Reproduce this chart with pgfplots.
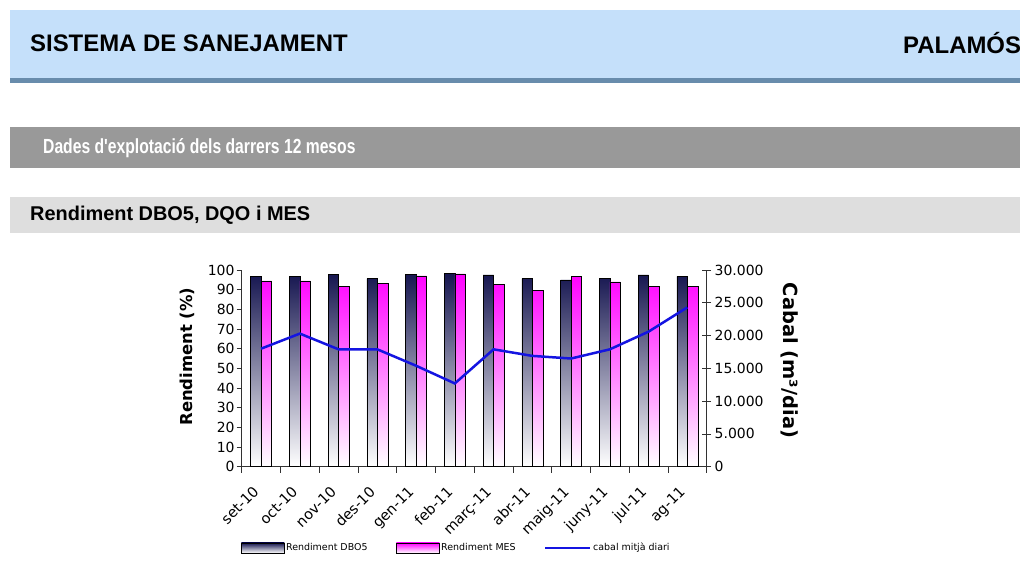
\documentclass[border=0pt]{standalone}
\usepackage{pgfplots}
\usepackage{pgfplotstable}
\pgfplotsset{compat=1.18}
\usepackage{graphicx}
\usepackage{fontspec}
\setmainfont{DejaVu Sans}
\newfontfamily\arialfont{Liberation Sans}
\definecolor{hdrblue}{RGB}{197,224,250}
\definecolor{hdrline}{RGB}{104,140,172}
\definecolor{bandgray}{RGB}{153,153,153}
\definecolor{bandlight}{RGB}{222,222,222}
\definecolor{navybar}{RGB}{22,22,80}
\definecolor{navymid}{RGB}{120,120,150}
\definecolor{magbar}{RGB}{255,0,255}
\definecolor{magmid}{RGB}{255,110,255}
\definecolor{lineblue}{RGB}{20,20,225}
\definecolor{axgray}{RGB}{50,50,50}

\pgfplotstableread{
x dbo mes cabal
0 96.8 94.5 18000
1 96.8 94.5 20300
2 97.7 91.8 17900
3 95.6 93.0 17900
4 97.7 97.0 15400
5 98.2 98.0 12700
6 97.5 92.8 17900
7 95.6 89.6 16900
8 95.0 96.8 16500
9 95.6 94.0 17900
10 97.5 91.8 20600
11 96.8 91.8 24300
}\data

\begin{document}
\begin{tikzpicture}
\path[use as bounding box] (0bp,0bp) rectangle (1020bp,584bp);
\fill[white] (0bp,0bp) rectangle (1020bp,584bp);
\begin{scope}
\clip (0bp,0bp) rectangle (1020bp,584bp);
\fill[hdrblue] (10bp,506bp) rectangle (1020bp,574bp);
\fill[hdrline] (10bp,501bp) rectangle (1020bp,506bp);
\node[anchor=west, inner sep=0pt, font=\arialfont\bfseries\fontsize{24}{26}\selectfont] at (30bp,541bp) {SISTEMA DE SANEJAMENT};
\node[anchor=west, inner sep=0pt, font=\arialfont\bfseries\fontsize{24}{26}\selectfont] at (903bp,541bp) {PALAMÓS};
\fill[bandgray] (10bp,416bp) rectangle (1020bp,457bp);
\node[anchor=west, inner sep=0pt, text=white, font=\arialfont\bfseries\fontsize{20.5}{22}\selectfont] at (43bp,436bp) {\scalebox{0.768}[1]{Dades d'explotació dels darrers 12 mesos}};
\fill[bandlight] (10bp,351bp) rectangle (1020bp,387bp);
\node[anchor=west, inner sep=0pt, font=\arialfont\bfseries\fontsize{20}{22}\selectfont] at (30bp,369bp) {Rendiment DBO5, DQO i MES};
\end{scope}

\begin{axis}[
  at={(241.7bp,117.3bp)}, anchor=south west,
  width=465bp, height=196.7bp, scale only axis,
  xmin=-0.5, xmax=11.5, ymin=0, ymax=100,
  axis y line*=left, axis x line*=bottom,
  axis line style={axgray, line width=0.8bp, -},
  xtick={0,...,11},
  xticklabels={set-10,oct-10,nov-10,des-10,gen-11,feb-11,març-11,abr-11,maig-11,juny-11,jul-11,ag-11},
  xtick style={draw=none},
  extra x ticks={-0.5,0.5,1.5,2.5,3.5,4.5,5.5,6.5,7.5,8.5,9.5,10.5,11.5},
  extra x tick labels={},
  extra x tick style={xtick style={draw=axgray, line width=0.8bp}, major tick length=6bp, tick align=outside},
  xticklabel style={xshift=-9bp, yshift=-12bp, rotate=45, anchor=north east, inner sep=1bp, font=\fontsize{14.5}{15}\selectfont},
  ytick={0,10,...,100},
  ytick pos=left, tick align=outside, major tick length=5bp,
  ytick style={axgray, line width=0.8bp},
  yticklabel style={font=\fontsize{14}{15}\selectfont, /pgf/number format/assume math mode=true, inner sep=2bp},
  ylabel={Rendiment (\%)},
  every axis y label/.style={at={(axis description cs:-0.1176,0.56)}, rotate=90, anchor=center, font=\bfseries\fontsize{16.5}{17}\selectfont},
  legend columns=3,
  legend style={draw=none, fill=none, at={(axis description cs:0.461,-0.413)}, anchor=center,
    font=\fontsize{9.5}{11}\selectfont, /tikz/every even column/.append style={column sep=27bp},
    nodes={inner sep=1.5bp}},
  legend cell align=left,
]
\addplot[ybar, bar width=10.5bp, bar shift=-5.25bp, draw=black, line width=0.6bp, top color=navybar, middle color=navymid, bottom color=white,
  legend image code/.code={\draw[draw=black, top color=navybar, middle color=navymid, bottom color=white] (0bp,-5bp) rectangle (43bp,5bp);}]
  table[x=x,y=dbo]{\data};
\addlegendentry{Rendiment DBO5}
\addplot[ybar, bar width=10.5bp, bar shift=5.25bp, draw=black, line width=0.6bp, top color=magbar, middle color=magmid, bottom color=white,
  legend image code/.code={\draw[draw=black, top color=magbar, middle color=magmid, bottom color=white] (0bp,-5bp) rectangle (43bp,5bp);}]
  table[x=x,y=mes]{\data};
\addlegendentry{Rendiment MES}
\addlegendimage{lineblue, line width=2.5bp, legend image code/.code={\draw[lineblue, line width=2.5bp] (0bp,0bp) -- (45bp,0bp);}}
\addlegendentry{cabal mitjà diari}
\end{axis}

\begin{axis}[
  at={(241.7bp,117.3bp)}, anchor=south west,
  width=465bp, height=196.7bp, scale only axis,
  xmin=-0.5, xmax=11.5, ymin=0, ymax=30000,
  axis y line*=right, axis x line=none,
  axis line style={axgray, line width=0.8bp, -},
  ytick={0,5000,...,30000},
  scaled y ticks=false,
  tick align=center, major tick length=9bp,
  ytick style={axgray, line width=0.8bp},
  yticklabel style={font=\fontsize{14}{15}\selectfont, /pgf/number format/.cd, fixed, 1000 sep={.}, assume math mode=true},
  ylabel={Cabal (m³/dia)},
  every axis y label/.style={at={(axis description cs:1.179,0.54)}, rotate=-90, anchor=center, font=\bfseries\fontsize{19.5}{20}\selectfont},
]
\addplot[lineblue, line width=2.5bp, mark=none] table[x=x,y=cabal]{\data};
\end{axis}
\end{tikzpicture}
\end{document}
